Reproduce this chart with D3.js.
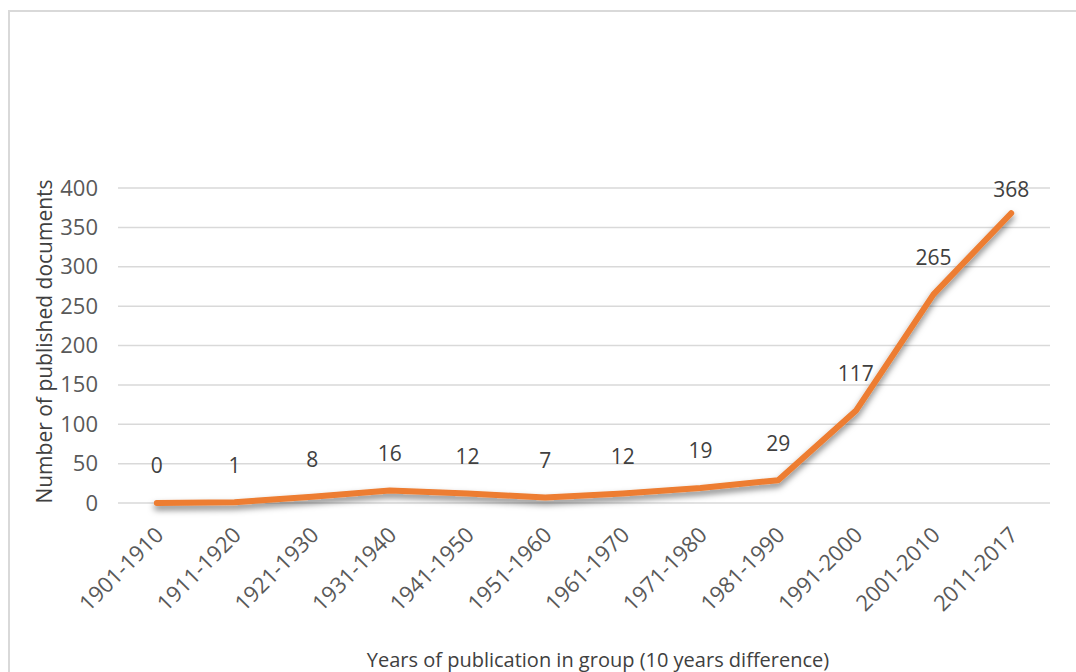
<!DOCTYPE html>
<html lang="en">
<head>
  <meta charset="utf-8">
  <title>Published documents by decade</title>
  <script src="https://d3js.org/d3.v7.min.js"></script>
  <style>
    body { margin: 0; background: #fff; }
    text { font-family: "Open Sans", sans-serif; }
  </style>
</head>
<body>
  <div id="chart"></div>

  <script type="text/javascript">
    "use strict"

    var periodos = ["1901-1910", "1911-1920", "1921-1930", "1931-1940", "1941-1950", "1951-1960",
                    "1961-1970", "1971-1980", "1981-1990", "1991-2000", "2001-2010", "2011-2017"];
    var documentos = [0, 1, 8, 16, 12, 7, 12, 19, 29, 117, 265, 368];
    var ticksY = [0, 50, 100, 150, 200, 250, 300, 350, 400];

    var larguraSVG = 1076, alturaSVG = 672;
    var margin = {top: 188, right: 26, bottom: 169, left: 118},
        larguraVis = larguraSVG - margin.left - margin.right,
        alturaVis = alturaSVG - margin.top - margin.bottom;

    var svg = d3.select('#chart')
      .append('svg')
        .attr('width', larguraSVG)
        .attr('height', alturaSVG);

    // sombra da linha
    var filtro = svg.append('defs').append('filter')
        .attr('id', 'sombra')
        .attr('x', '-10%').attr('y', '-10%')
        .attr('width', '120%').attr('height', '140%');
    filtro.append('feDropShadow')
        .attr('dx', 0).attr('dy', 4)
        .attr('stdDeviation', 3)
        .attr('flood-color', '#000')
        .attr('flood-opacity', 0.5);

    // moldura
    svg.append('rect')
        .attr('x', 9).attr('y', 11)
        .attr('width', 1100).attr('height', 700)
        .attr('fill', 'none')
        .attr('stroke', '#d9d9d9')
        .attr('stroke-width', 2);

    var grafico = svg.append('g')
        .attr('transform', 'translate(' + margin.left + ',' + margin.top + ')');

    var x = d3.scalePoint()
              .domain(periodos)
              .range([0, larguraVis])
              .padding(0.5);

    var y = d3.scaleLinear()
              .domain([0, 400])
              .range([alturaVis, 0]);

    // linhas de grade
    grafico.append('g')
        .selectAll('line')
        .data(ticksY)
        .enter()
          .append('line')
            .attr('x1', 0)
            .attr('x2', larguraVis)
            .attr('y1', d => y(d))
            .attr('y2', d => y(d))
            .attr('stroke', '#d9d9d9')
            .attr('stroke-width', 1.5);

    // eixo y
    var eixoY = grafico.append('g')
        .attr('transform', 'translate(-20,0)')
        .call(d3.axisLeft(y).tickValues(ticksY).tickSize(0).tickPadding(0));
    eixoY.select('.domain').remove();
    eixoY.selectAll('text')
        .attr('fill', '#595959')
        .style('font-size', '22px')
        .style('font-family', '"Open Sans", sans-serif');

    // eixo x
    var eixoX = grafico.append('g')
        .attr('transform', 'translate(0,' + alturaVis + ')')
        .call(d3.axisBottom(x).tickSize(0).tickPadding(0));
    eixoX.select('.domain').remove();
    eixoX.selectAll('text')
        .attr('fill', '#595959')
        .style('font-size', '22px')
        .style('font-family', '"Open Sans", sans-serif')
        .attr('text-anchor', 'end')
        .attr('dy', '0.35em')
        .attr('transform', 'translate(2,28) rotate(-45)');

    // a linha
    var linha = d3.line()
        .x((d, i) => x(periodos[i]))
        .y(d => y(d));

    grafico.append('path')
        .datum(documentos)
        .attr('d', linha)
        .attr('fill', 'none')
        .attr('stroke', '#ed7d31')
        .attr('stroke-width', 6)
        .attr('stroke-linecap', 'round')
        .attr('stroke-linejoin', 'round')
        .attr('filter', 'url(#sombra)');

    // rotulos de dados
    grafico.selectAll('.rotulo')
        .data(documentos)
        .enter()
          .append('text')
            .attr('class', 'rotulo')
            .attr('x', (d, i) => x(periodos[i]))
            .attr('y', d => Math.max(y(d) - 37, y(400) + 2))
            .attr('dy', '0.35em')
            .attr('text-anchor', 'middle')
            .attr('fill', '#404040')
            .style('font-size', '21px')
            .text(d => d);

    // titulos dos eixos
    svg.append('text')
        .attr('transform', 'translate(52,' + (margin.top + alturaVis / 2 - 4) + ') rotate(-90)')
        .attr('text-anchor', 'middle')
        .attr('fill', '#404040')
        .style('font-size', '21px')
        .text('Number of published documents');

    svg.append('text')
        .attr('x', 598)
        .attr('y', 667)
        .attr('text-anchor', 'middle')
        .attr('fill', '#404040')
        .style('font-size', '20px')
        .text('Years of publication in group (10 years difference)');
  </script>
</body>
</html>
